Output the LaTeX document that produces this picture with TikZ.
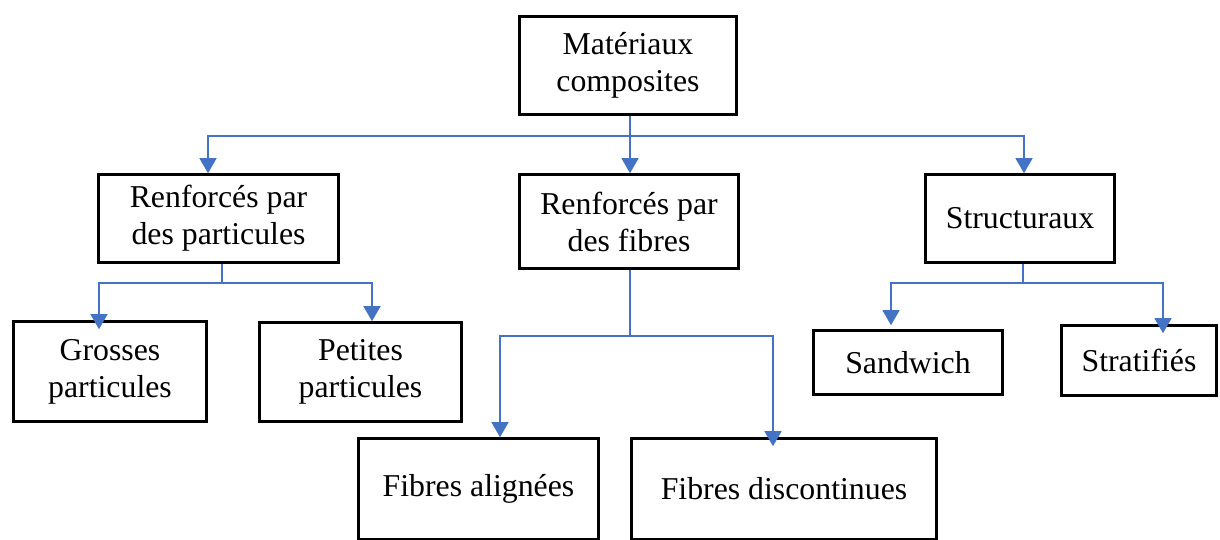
\documentclass[tikz,border=0pt]{standalone}
\usepackage{fontspec}
\setmainfont{Liberation Serif}
\usetikzlibrary{arrows.meta}
\definecolor{linkblue}{HTML}{4472C4}
\tikzset{
  box/.style={draw, line width=2.6pt, align=center, inner sep=0pt, font=\fontsize{31.8}{37}\selectfont},
  linkline/.style={draw=linkblue, line width=1.4pt},
  link/.style={linkline, -{Triangle[length=15pt,width=17pt]}}
}

\begin{document}
\begin{tikzpicture}[x=1pt,y=-1pt]
\useasboundingbox (0,0) rectangle (1220,539);
% boxes
\node[box, minimum width=217pt, minimum height=98pt] (mat) at (628,65.5) {Matériaux\\composites};
\node[box, minimum width=240pt, minimum height=88pt] (rp) at (218.5,218.5) {Renforcés par\\des particules};
\node[box, minimum width=219pt, minimum height=94pt] (rf) at (629,221.5) {Renforcés par\\des fibres};
\node[box, minimum width=189pt, minimum height=88pt] (st) at (1020,218.5) {Structuraux};
\node[box, minimum width=193pt, minimum height=100pt] (gp) at (110,371.5) {Grosses\\particules};
\node[box, minimum width=202pt, minimum height=99pt] (pp) at (360.5,372) {Petites\\particules};
\node[box, minimum width=240pt, minimum height=101pt] (fa) at (478.5,489) {Fibres alignées};
\node[box, minimum width=305pt, minimum height=101pt] (fd) at (784,489) {Fibres discontinues};
\node[box, minimum width=189pt, minimum height=64pt] (sw) at (908,362.5) {Sandwich};
\node[box, minimum width=155pt, minimum height=70pt] (sf) at (1139,360.5) {Stratifiés};
% bus points
\coordinate (b0) at (630,136);
\coordinate (b1) at (222,283);
\coordinate (b2) at (630,336);
\coordinate (b3) at (1023,283);
% connectors
\draw[linkline] (mat.south -| b0) -- (b0);
\draw[link] (b0) -| ([xshift=-10.5pt]rp.north);
\draw[link] (b0) -- (rf.north -| b0);
\draw[link] (b0) -| ([xshift=4pt]st.north);
\draw[linkline] (rp.south -| b1) -- (b1);
\draw[link, shorten >=-9pt] (b1) -| ([xshift=-11pt]gp.north);
\draw[link] (b1) -| ([xshift=11.5pt]pp.north);
\draw[linkline] (rf.south -| b2) -- (b2);
\draw[link] (b2) -| ([xshift=21.5pt]fa.north);
\draw[link, shorten >=-9pt] (b2) -| ([xshift=-11pt]fd.north);
\draw[linkline] (st.south -| b3) -- (b3);
\draw[link, shorten >=4pt] (b3) -| ([xshift=-17pt]sw.north);
\draw[link, shorten >=-9pt] (b3) -| ([xshift=24pt]sf.north);
\end{tikzpicture}
\end{document}
